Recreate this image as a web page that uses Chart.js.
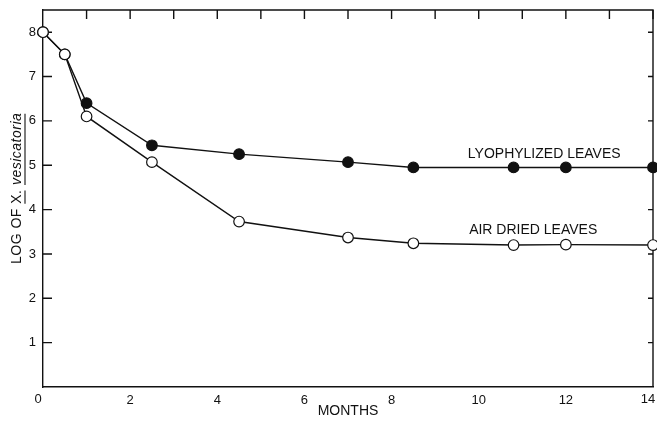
<!DOCTYPE html>
<html>
<head>
<meta charset="utf-8">
<script src="https://cdn.jsdelivr.net/npm/chart.js@4"></script>
<style>
  html, body { margin: 0; padding: 0; background: #fff; }
  #wrap { width: 657px; height: 422px; }
</style>
</head>
<body>
<div id="wrap"><canvas id="grafico"></canvas></div>
<script>
const meses = [0, 0.5, 1, 2.5, 4.5, 7, 8.5, 10.8, 12, 14];
const liofilizadas = [8.0, 7.5, 6.4, 5.45, 5.25, 5.07, 4.95, 4.95, 4.95, 4.95];
const secasAoAr = [8.0, 7.5, 6.1, 5.07, 3.73, 3.37, 3.24, 3.2, 3.21, 3.2];
const ticksX = [0, 2, 4, 6, 8, 10, 12, 14];
const ticksY = [1, 2, 3, 4, 5, 6, 7, 8];
const ticksTopo = [1, 2, 3, 4, 5, 6, 7, 8, 9, 10, 11, 12, 13, 14];

const tinta = "#111";
const fonte = "'Liberation Sans', Arial, sans-serif";

function pontos(ys) {
  return meses.map((m, i) => ({ x: m, y: ys[i] }));
}

// moldura, ticks para dentro e textos
const extras = {
  id: "extras",
  beforeDatasetsDraw(chart) {
    const ctx = chart.ctx;
    const a = chart.chartArea;
    const sx = chart.scales.x;
    const sy = chart.scales.y;
    ctx.save();
    ctx.strokeStyle = tinta;
    ctx.lineWidth = 1.4;

    ctx.beginPath();
    ctx.moveTo(a.left, a.top);
    ctx.lineTo(a.right, a.top);
    ctx.lineTo(a.right, a.bottom);
    ctx.stroke();

    ctx.beginPath();
    ticksY.forEach((v) => {
      const y = sy.getPixelForValue(v);
      ctx.moveTo(a.left, y);
      ctx.lineTo(a.left + 9, y);
      ctx.moveTo(a.right, y);
      ctx.lineTo(a.right - 5, y);
    });
    ticksTopo.forEach((m) => {
      const x = sx.getPixelForValue(m);
      ctx.moveTo(x, a.top);
      ctx.lineTo(x, a.top + 9);
    });
    ctx.stroke();
    ctx.restore();
  },
  afterDraw(chart) {
    const ctx = chart.ctx;
    const a = chart.chartArea;
    const sx = chart.scales.x;
    const sy = chart.scales.y;
    ctx.save();
    ctx.strokeStyle = tinta;
    ctx.fillStyle = tinta;

    // 0 e 14 ficam um pouco à esquerda da marca, como no original
    ctx.font = "13px " + fonte;
    ctx.textAlign = "center";
    ctx.textBaseline = "top";
    [0, 14].forEach((m) => {
      ctx.fillText(String(m), sx.getPixelForValue(m) - 5, a.bottom + 6);
    });

    // rótulos das curvas
    ctx.font = "14px " + fonte;
    ctx.textAlign = "left";
    ctx.textBaseline = "middle";
    ctx.fillText("LYOPHYLIZED LEAVES", sx.getPixelForValue(9.75), sy.getPixelForValue(5.26));
    ctx.fillText("AIR DRIED LEAVES", sx.getPixelForValue(9.78), sy.getPixelForValue(3.53));

    // título eixo x
    ctx.textAlign = "center";
    ctx.font = "14px " + fonte;
    ctx.fillText("MONTHS", sx.getPixelForValue(7), 411);

    // título eixo y (com X. sublinhado e vesicatoria em itálico)
    ctx.translate(17, 264);
    ctx.rotate(-Math.PI / 2);
    ctx.textAlign = "left";
    const partes = [
      { t: "LOG OF ", f: "14px " + fonte, u: false },
      { t: "X.", f: "14px " + fonte, u: true },
      { t: " ", f: "14px " + fonte, u: false },
      { t: "vesicatoria", f: "italic 14px " + fonte, u: true },
    ];
    let px = 0;
    ctx.lineWidth = 1.1;
    partes.forEach((p) => {
      ctx.font = p.f;
      ctx.letterSpacing = "0.5px";
      const w = ctx.measureText(p.t).width;
      ctx.fillText(p.t, px, 0);
      if (p.u) {
        ctx.beginPath();
        ctx.moveTo(px, 8);
        ctx.lineTo(px + w - 1, 8);
        ctx.stroke();
      }
      px += w;
    });
    ctx.restore();
  },
};

new Chart(document.getElementById("grafico").getContext("2d"), {
  type: "line",
  data: {
    // o primeiro dataset fica por cima: círculos abertos sobre os cheios
    datasets: [
      {
        label: "AIR DRIED LEAVES",
        data: pontos(secasAoAr),
        borderColor: tinta,
        borderWidth: 1.4,
        backgroundColor: "#fff",
        pointBackgroundColor: "#fff",
        pointBorderColor: tinta,
        pointBorderWidth: 1.2,
        pointRadius: 5.3,
        tension: 0,
        clip: false,
      },
      {
        label: "LYOPHYLIZED LEAVES",
        data: pontos(liofilizadas),
        borderColor: tinta,
        borderWidth: 1.4,
        backgroundColor: tinta,
        pointBackgroundColor: tinta,
        pointBorderColor: tinta,
        pointBorderWidth: 1.2,
        pointRadius: 5.3,
        tension: 0,
        clip: false,
      },
    ],
  },
  options: {
    responsive: true,
    maintainAspectRatio: false,
    animation: false,
    layout: { autoPadding: false, padding: { top: 10, right: 4, left: 0, bottom: 0 } },
    plugins: { legend: { display: false }, tooltip: { enabled: false } },
    scales: {
      x: {
        type: "linear",
        min: 0,
        max: 14,
        afterFit: (s) => {
          s.height = 35;
          s.paddingLeft = 0;
          s.paddingRight = 0;
        },
        afterBuildTicks: (s) => { s.ticks = ticksX.map((v) => ({ value: v })); },
        grid: { display: false, drawTicks: false },
        border: { display: true, color: tinta, width: 1.4 },
        ticks: {
          color: tinta,
          font: { family: fonte, size: 13 },
          padding: 6,
          maxRotation: 0,
          callback: (v) => (v === 0 || v === 14 ? "" : String(v)),
        },
      },
      y: {
        min: 0,
        max: 8.5,
        afterFit: (s) => {
          s.width = 43;
          s.paddingTop = 0;
          s.paddingBottom = 0;
        },
        afterBuildTicks: (s) => { s.ticks = ticksY.map((v) => ({ value: v })); },
        grid: { display: false, drawTicks: false },
        border: { display: true, color: tinta, width: 1.4 },
        ticks: { color: tinta, font: { family: fonte, size: 13 }, padding: 7 },
      },
    },
  },
  plugins: [extras],
});
</script>
</body>
</html>
